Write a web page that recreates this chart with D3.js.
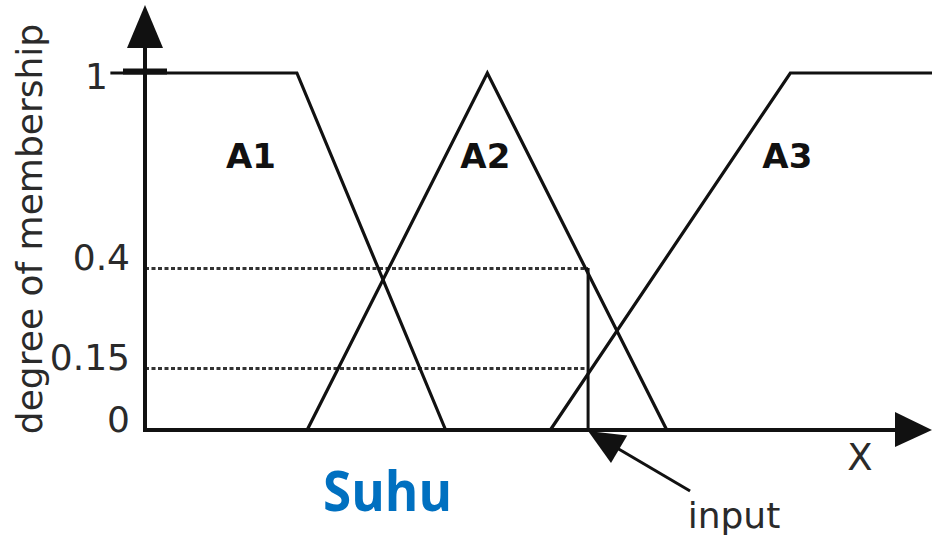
<!DOCTYPE html>
<html>
<head>
<meta charset="utf-8">
<script src="https://cdn.jsdelivr.net/npm/d3@7"></script>
<style>
  html, body { margin: 0; padding: 0; background: #fff; }
  svg { display: block; }
</style>
</head>
<body>
<div id="chart"></div>
<script>
  // membership functions, x in universe units (0..100), y in degree of membership
  const setNames = ['A1', 'A2', 'A3'];
  const a1X = [-4.4, 19.3, 38.2];
  const a1Y = [1, 1, 0];
  const a2X = [20.6, 43.5, 66.3];
  const a2Y = [0, 1, 0];
  const a3X = [51.5, 82.0, 100];
  const a3Y = [0, 1, 1];
  const inputX = 56.3;
  const inputLevels = [0.4, 0.15];
  const yTickValues = [0, 0.15, 0.4, 1];
  const yTickLabels = ['0', '0.15', '0.4', '1'];

  const width = 932;
  const height = 536;
  const ink = '#111';
  const textInk = '#2a2a2a';

  const svg = d3.select('#chart')
    .append('svg')
    .attr('width', width)
    .attr('height', height);

  const x = d3.scaleLinear().domain([0, 100]).range([145, 932]);
  // the drawing spaces the labelled levels unevenly, so the scale follows it
  const y = d3.scaleLinear().domain([0, 0.15, 0.4, 1]).range([430, 368, 268, 73]);

  const line = d3.line().x((d) => x(d[0])).y((d) => y(d[1]));
  const sets = [
    d3.zip(a1X, a1Y),
    d3.zip(a2X, a2Y),
    d3.zip(a3X, a3Y)
  ];

  // dotted guide lines for the fuzzified input
  svg.selectAll('.level')
    .data(inputLevels)
    .enter()
    .append('line')
    .attr('class', 'level')
    .attr('x1', x(0))
    .attr('x2', x(inputX))
    .attr('y1', (d) => Math.round(y(d)) + 0.5)
    .attr('y2', (d) => Math.round(y(d)) + 0.5)
    .attr('stroke', '#333')
    .attr('stroke-width', 3)
    .attr('stroke-dasharray', '4,2.5');

  svg.selectAll('.mf')
    .data(sets)
    .enter()
    .append('path')
    .attr('class', 'mf')
    .attr('d', line)
    .attr('fill', 'none')
    .attr('stroke', ink)
    .attr('stroke-width', 3.2)
    .attr('stroke-linejoin', 'miter');

  // input marker
  svg.append('line')
    .attr('x1', x(inputX))
    .attr('x2', x(inputX))
    .attr('y1', y(d3.max(inputLevels)))
    .attr('y2', y(0))
    .attr('stroke', ink)
    .attr('stroke-width', 3);

  // axes with arrow heads
  const x0 = x(0);
  const y0 = y(0);
  svg.append('line')
    .attr('x1', x0).attr('x2', x0)
    .attr('y1', y0 + 2).attr('y2', 48)
    .attr('stroke', ink).attr('stroke-width', 4);
  svg.append('path')
    .attr('d', `M${x0 - 18},48 L${x0},5 L${x0 + 18},48 Z`)
    .attr('fill', ink);
  svg.append('line')
    .attr('x1', x0 - 2).attr('x2', 896)
    .attr('y1', y0).attr('y2', y0)
    .attr('stroke', ink).attr('stroke-width', 4);
  svg.append('path')
    .attr('d', `M895,${y0 - 18} L932,${y0} L895,${y0 + 17} Z`)
    .attr('fill', ink);

  // tick at full membership
  svg.append('line')
    .attr('x1', x0 - 22).attr('x2', x0 + 22)
    .attr('y1', y(1) - 1.5).attr('y2', y(1) - 1.5)
    .attr('stroke', ink).attr('stroke-width', 6);

  const yAxis = svg.append('g')
    .attr('transform', `translate(${x0},0)`)
    .call(d3.axisLeft(y)
      .tickValues(yTickValues)
      .tickSize(0)
      .tickPadding(15)
      .tickFormat((d, i) => yTickLabels[i]));
  yAxis.select('.domain').remove();
  yAxis.selectAll('text')
    .attr('font-family', '"DejaVu Sans", Verdana, sans-serif')
    .attr('font-size', 36)
    .attr('fill', textInk)
    .attr('dy', 1)
    .filter((d) => d === 1)
    .attr('x', -37)
    .attr('dy', 15);

  svg.append('text')
    .attr('transform', `translate(42,229) rotate(-90)`)
    .attr('text-anchor', 'middle')
    .attr('font-family', '"DejaVu Sans", Verdana, sans-serif')
    .attr('font-size', 36)
    .attr('fill', textInk)
    .text('degree of membership');

  // set names, placed against a vertex of each set
  const labelAnchors = [
    [x(a1X[1]) - 46, y(1) + 95],
    [x(a2X[1]) - 2, y(1) + 95],
    [x(a3X[1]) - 3, y(1) + 95]
  ];
  svg.selectAll('.set-name')
    .data(setNames)
    .enter()
    .append('text')
    .attr('class', 'set-name')
    .attr('x', (_, i) => labelAnchors[i][0])
    .attr('y', (_, i) => labelAnchors[i][1])
    .attr('text-anchor', 'middle')
    .attr('font-family', '"DejaVu Sans", Verdana, sans-serif')
    .attr('font-weight', 'bold')
    .attr('font-size', 34)
    .attr('fill', ink)
    .text((d) => d);

  svg.append('text')
    .attr('x', 860)
    .attr('y', 470)
    .attr('text-anchor', 'middle')
    .attr('font-family', '"DejaVu Sans", Verdana, sans-serif')
    .attr('font-size', 37)
    .attr('fill', textInk)
    .text('X');

  // "input" pointer
  const tipX = x(inputX);
  const tipY = y0 + 1;
  const tailX = tipX + 102;
  const tailY = tipY + 60;
  const len = Math.hypot(tailX - tipX, tailY - tipY);
  const ux = (tailX - tipX) / len;
  const uy = (tailY - tipY) / len;
  const headLen = 36;
  const halfW = 16;
  const bx = tipX + ux * headLen;
  const by = tipY + uy * headLen;
  svg.append('line')
    .attr('x1', bx - ux * 4).attr('y1', by - uy * 4)
    .attr('x2', tailX).attr('y2', tailY)
    .attr('stroke', ink).attr('stroke-width', 3);
  svg.append('path')
    .attr('d', `M${tipX},${tipY} L${bx - uy * halfW},${by + ux * halfW} L${bx + uy * halfW},${by - ux * halfW} Z`)
    .attr('fill', ink);

  svg.append('text')
    .attr('x', 734)
    .attr('y', 528)
    .attr('text-anchor', 'middle')
    .attr('font-family', '"DejaVu Sans", Verdana, sans-serif')
    .attr('font-size', 36)
    .attr('fill', textInk)
    .text('input');

  svg.append('text')
    .attr('x', 323)
    .attr('y', 511)
    .attr('font-family', '"Open Sans", "Noto Sans", sans-serif')
    .attr('font-weight', 'bold')
    .attr('font-size', 56)
    .attr('fill', '#0070c0')
    .attr('textLength', 129)
    .attr('lengthAdjust', 'spacingAndGlyphs')
    .text('Suhu');
</script>
</body>
</html>
